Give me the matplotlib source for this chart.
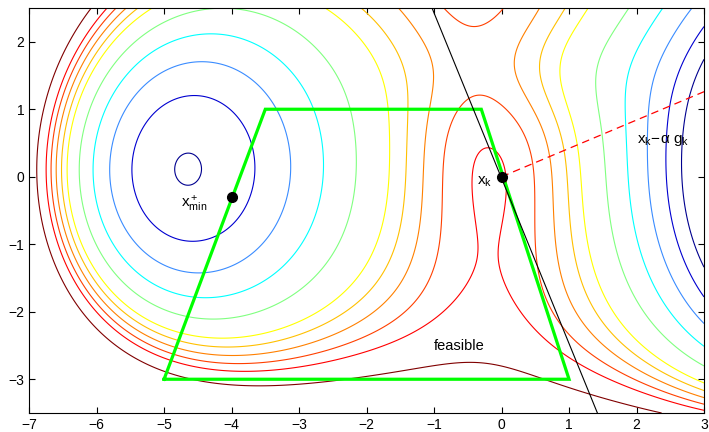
import numpy as np
import matplotlib
matplotlib.use('Agg')
import matplotlib.pyplot as plt

plt.rcParams['font.family'] = ['Liberation Sans', 'DejaVu Sans']
plt.rcParams['mathtext.fontset'] = 'custom'
plt.rcParams['mathtext.rm'] = 'Liberation Sans'
plt.rcParams['mathtext.it'] = 'Liberation Sans:italic'

# objective: bowl + two wells, bottom wall and two shaping bumps
bowl = dict(c0=14.16, kx=0.6142, xb=1.419, by=-0.1437)
well_left = (42.48, -6.079, 0.05, 2.656, 3.315)    # depth, cx, cy, sx, sy
well_right = (38.17, 5.485, 0.05676, 2.047, 2.677)
bump_ridge = (3.0, -0.1558, 0.5, 0.9112, 1.865)
bump_saddle = (-1.77, 0.5, 1.6, 1.2, 0.6471)
wall = (0.05359, 0.7447)                           # scale, decay

levels = [0.16, 2, 4, 6, 8, 10, 11, 12, 13, 14, 16]
level_colors = ['#00008f', '#0000d0', '#3a8cff', '#00ffff', '#80ff80', '#ffff00',
                '#ffc000', '#ff8000', '#ff4000', '#ff0000', '#800000']

# feasible set (closed polygon)
feas_x = [-5, -3.5, -0.3, 1, -5]
feas_y = [-3, 1, 1, -3, -3]

xk = (0, 0)
xmin_plus = (-4, -0.3)
tangent_x = [-1.03, 1.42]
tangent_y = [2.5, -3.5]
step_x = [0, 3]
step_y = [0, 1.26]


def gauss(x, y, a, cx, cy, sx, sy):
    return a*np.exp(-0.5*((x-cx)**2/sx**2 + (y-cy)**2/sy**2))


def f(x, y):
    z = bowl['c0'] + bowl['kx']*(x-bowl['xb'])**2 + bowl['by']*y
    z -= gauss(x, y, *well_left) + gauss(x, y, *well_right)
    z += gauss(x, y, *bump_ridge) + gauss(x, y, *bump_saddle)
    z += wall[0]*np.exp(-y/wall[1])
    return z


xx, yy = np.meshgrid(np.linspace(-7, 3, 600), np.linspace(-3.5, 2.5, 400))
zz = f(xx, yy)

fig = plt.figure(figsize=(7.09, 4.32), dpi=100)
ax = fig.add_axes([0.041, 0.044, 0.952, 0.9375])
ax.contour(xx, yy, zz, levels=levels, colors=level_colors, linewidths=0.8)

ax.plot(feas_x, feas_y, color='#00ff00', lw=2.3, solid_joinstyle='miter')
ax.plot(tangent_x, tangent_y, color='k', lw=0.8)
ax.plot(step_x, step_y, color='r', lw=0.9, ls=(0, (6, 4)))
ax.plot(*xk, 'ko', ms=7)
ax.plot(*xmin_plus, 'ko', ms=7)

ax.text(-0.36, -0.12, r'$\mathregular{x_k}$', fontsize=11)
ax.text(-4.75, -0.46, r'$\mathregular{x^+_{min}}$', fontsize=11)
ax.text(2.0, 0.5, r'$\mathregular{x_k\!-\!\alpha\ g_k}$', fontsize=11)
ax.text(-1.0, -2.56, 'feasible', fontsize=10.5)

ax.set_xlim(-7, 3)
ax.set_ylim(-3.5, 2.5)
ax.set_xticks(range(-7, 4))
ax.set_yticks(range(-3, 3))
ax.tick_params(direction='in', top=True, right=True, length=4, width=0.8, labelsize=10)
for s in ax.spines.values():
    s.set_linewidth(0.8)

fig.savefig('out.png', dpi=100)
